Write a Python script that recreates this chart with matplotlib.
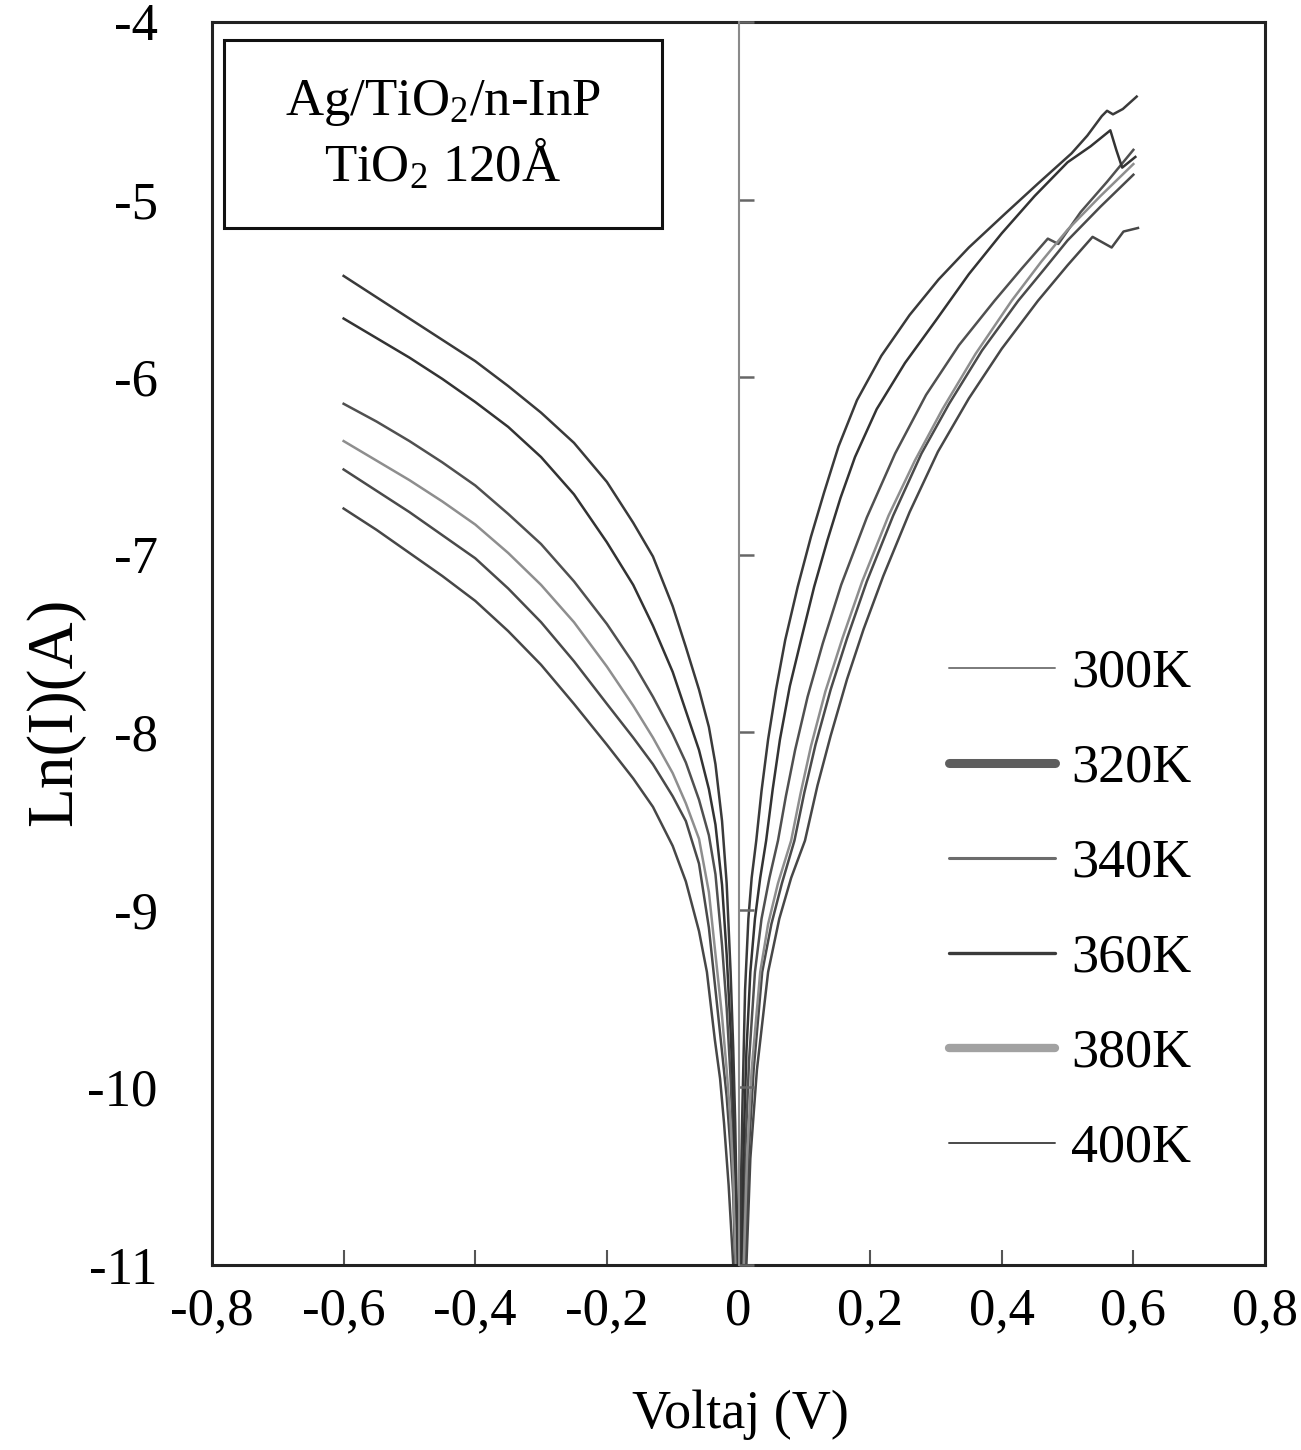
import matplotlib

matplotlib.use("Agg")
import matplotlib.pyplot as plt
from matplotlib.lines import Line2D
from matplotlib.patches import Rectangle

plt.rcParams.update(
    {
        "font.family": "Liberation Serif",
        "mathtext.fontset": "custom",
        "mathtext.rm": "Liberation Serif",
        "mathtext.it": "Liberation Serif:italic",
        "axes.unicode_minus": False,
    }
)

# temperatures (legend order) and how each one is drawn
temps = ["300K", "320K", "340K", "360K", "380K", "400K"]
plot_colors = ["#474747", "#4a4a4a", "#505050", "#333333", "#8e8e8e", "#3a3a3a"]
legend_colors = ["#7a7a7a", "#5e5e5e", "#6c6c6c", "#3a3a3a", "#a2a2a2", "#4a4a4a"]
legend_widths = [1.4, 6.5, 2.2, 2.4, 6.0, 1.4]

# reverse bias branch
v_rev_400 = [-0.60, -0.55, -0.50, -0.45, -0.40, -0.35, -0.30, -0.25, -0.20, -0.16, -0.13, -0.10,
             -0.08, -0.06, -0.045, -0.035, -0.025, -0.018, -0.012, -0.008, -0.005, -0.003, -0.001]
ln_rev_400 = [-5.43, -5.55, -5.67, -5.79, -5.91, -6.05, -6.20, -6.37, -6.59, -6.82, -7.01, -7.29,
              -7.52, -7.76, -7.97, -8.18, -8.50, -8.85, -9.35, -9.78, -10.2, -10.6, -11.0]
v_rev_360 = [-0.60, -0.55, -0.50, -0.45, -0.40, -0.35, -0.30, -0.25, -0.20, -0.16, -0.13, -0.10,
             -0.08, -0.06, -0.045, -0.035, -0.025, -0.018, -0.012, -0.008, -0.005, -0.002]
ln_rev_360 = [-5.67, -5.78, -5.89, -6.01, -6.14, -6.28, -6.45, -6.66, -6.93, -7.17, -7.40, -7.66,
              -7.88, -8.10, -8.32, -8.52, -8.86, -9.25, -9.68, -10.05, -10.45, -11.0]
v_rev_340 = [-0.60, -0.55, -0.50, -0.45, -0.40, -0.35, -0.30, -0.25, -0.20, -0.16, -0.13, -0.10,
             -0.08, -0.06, -0.045, -0.035, -0.025, -0.018, -0.012, -0.008, -0.005, -0.003]
ln_rev_340 = [-6.15, -6.25, -6.36, -6.48, -6.61, -6.77, -6.94, -7.15, -7.39, -7.61, -7.80, -8.01,
              -8.17, -8.38, -8.58, -8.80, -9.20, -9.55, -9.95, -10.3, -10.6, -11.0]
v_rev_380 = [-0.60, -0.55, -0.50, -0.45, -0.40, -0.35, -0.30, -0.25, -0.20, -0.16, -0.13, -0.10,
             -0.08, -0.06, -0.045, -0.035, -0.025, -0.018, -0.012, -0.008, -0.004]
ln_rev_380 = [-6.36, -6.47, -6.58, -6.70, -6.83, -6.99, -7.17, -7.38, -7.63, -7.85, -8.03, -8.23,
              -8.40, -8.60, -8.90, -9.25, -9.60, -9.90, -10.2, -10.5, -11.0]
v_rev_320 = [-0.60, -0.55, -0.50, -0.45, -0.40, -0.35, -0.30, -0.25, -0.20, -0.16, -0.13, -0.10,
             -0.08, -0.06, -0.045, -0.035, -0.025, -0.018, -0.012, -0.008, -0.005]
ln_rev_320 = [-6.52, -6.64, -6.76, -6.89, -7.02, -7.19, -7.38, -7.60, -7.84, -8.03, -8.18, -8.36,
              -8.50, -8.74, -9.10, -9.45, -9.80, -10.05, -10.35, -10.6, -11.0]
v_rev_300 = [-0.60, -0.55, -0.50, -0.45, -0.40, -0.35, -0.30, -0.25, -0.20, -0.16, -0.13, -0.10,
             -0.08, -0.06, -0.048, -0.036, -0.028, -0.022, -0.015, -0.008]
ln_rev_300 = [-6.74, -6.86, -6.99, -7.12, -7.26, -7.43, -7.62, -7.84, -8.07, -8.26, -8.42, -8.64,
              -8.84, -9.12, -9.35, -9.73, -9.95, -10.2, -10.55, -11.0]

# forward bias branch
v_fwd_400 = [0.002, 0.004, 0.006, 0.010, 0.015, 0.020, 0.027, 0.035, 0.045, 0.057, 0.071, 0.090,
             0.110, 0.130, 0.152, 0.180, 0.217, 0.260, 0.304, 0.350, 0.405, 0.455, 0.506, 0.530,
             0.552, 0.560, 0.569, 0.584, 0.605]
ln_fwd_400 = [-11.0, -10.5, -10.1, -9.45, -9.05, -8.82, -8.61, -8.33, -8.04, -7.76, -7.48, -7.18,
              -6.90, -6.65, -6.39, -6.13, -5.88, -5.65, -5.45, -5.27, -5.08, -4.91, -4.74, -4.64,
              -4.53, -4.50, -4.52, -4.49, -4.42]
v_fwd_360 = [0.004, 0.008, 0.012, 0.018, 0.025, 0.033, 0.042, 0.052, 0.063, 0.078, 0.095, 0.115,
             0.135, 0.155, 0.177, 0.210, 0.253, 0.300, 0.350, 0.400, 0.450, 0.500, 0.535, 0.565,
             0.574, 0.583, 0.603]
ln_fwd_360 = [-11.0, -10.3, -9.8, -9.35, -9.05, -8.82, -8.61, -8.32, -8.04, -7.74, -7.48, -7.18,
              -6.92, -6.68, -6.45, -6.18, -5.92, -5.68, -5.42, -5.19, -4.98, -4.79, -4.70, -4.61,
              -4.72, -4.82, -4.76]
v_fwd_340 = [0.006, 0.010, 0.016, 0.025, 0.035, 0.047, 0.060, 0.072, 0.086, 0.105, 0.128, 0.156,
             0.195, 0.238, 0.285, 0.335, 0.389, 0.430, 0.470, 0.486, 0.520, 0.560, 0.600]
ln_fwd_340 = [-11.0, -10.4, -9.85, -9.35, -9.05, -8.82, -8.61, -8.36, -8.10, -7.80, -7.50, -7.17,
              -6.79, -6.43, -6.10, -5.82, -5.57, -5.39, -5.22, -5.25, -5.07, -4.90, -4.72]
v_fwd_380 = [0.008, 0.013, 0.020, 0.033, 0.045, 0.060, 0.080, 0.094, 0.110, 0.132, 0.158, 0.188,
             0.228, 0.268, 0.310, 0.360, 0.415, 0.460, 0.500, 0.550, 0.600]
ln_fwd_380 = [-11.0, -10.4, -9.9, -9.35, -9.08, -8.85, -8.61, -8.35, -8.08, -7.77, -7.47, -7.15,
              -6.78, -6.47, -6.18, -5.87, -5.57, -5.35, -5.17, -4.98, -4.80]
v_fwd_320 = [0.010, 0.015, 0.023, 0.036, 0.050, 0.066, 0.085, 0.100, 0.117, 0.140, 0.165, 0.195,
             0.235, 0.278, 0.320, 0.370, 0.425, 0.465, 0.500, 0.550, 0.600]
ln_fwd_320 = [-11.0, -10.4, -9.9, -9.35, -9.08, -8.85, -8.61, -8.34, -8.07, -7.76, -7.47, -7.15,
              -6.78, -6.43, -6.15, -5.85, -5.57, -5.39, -5.23, -5.04, -4.86]
v_fwd_300 = [0.012, 0.018, 0.028, 0.045, 0.062, 0.080, 0.101, 0.120, 0.140, 0.165, 0.190, 0.220,
             0.260, 0.303, 0.350, 0.400, 0.455, 0.500, 0.538, 0.567, 0.585, 0.607]
ln_fwd_300 = [-11.0, -10.4, -9.9, -9.35, -9.05, -8.82, -8.61, -8.30, -8.02, -7.70, -7.42, -7.12,
              -6.76, -6.42, -6.12, -5.84, -5.57, -5.37, -5.21, -5.27, -5.18, -5.16]

reverse = {
    "300K": (v_rev_300, ln_rev_300),
    "320K": (v_rev_320, ln_rev_320),
    "340K": (v_rev_340, ln_rev_340),
    "360K": (v_rev_360, ln_rev_360),
    "380K": (v_rev_380, ln_rev_380),
    "400K": (v_rev_400, ln_rev_400),
}
forward = {
    "300K": (v_fwd_300, ln_fwd_300),
    "320K": (v_fwd_320, ln_fwd_320),
    "340K": (v_fwd_340, ln_fwd_340),
    "360K": (v_fwd_360, ln_fwd_360),
    "380K": (v_fwd_380, ln_fwd_380),
    "400K": (v_fwd_400, ln_fwd_400),
}

x_ticks = [-0.8, -0.6, -0.4, -0.2, 0.0, 0.2, 0.4, 0.6, 0.8]
x_tick_labels = ["-0,8", "-0,6", "-0,4", "-0,2", "0", "0,2", "0,4", "0,6", "0,8"]
y_ticks = [-11, -10, -9, -8, -7, -6, -5, -4]

W, H = 1301, 1450
fig = plt.figure(figsize=(W / 100, H / 100), dpi=100)
ax = fig.add_axes([212 / W, 1 - 1265 / H, 1053 / W, 1243 / H])

for t, pc in zip(temps, plot_colors):
    v, ln = reverse[t]
    ax.plot(v, ln, color=pc, lw=1.8, solid_joinstyle="round")
    v, ln = forward[t]
    ax.plot(v, ln, color=pc, lw=1.8, solid_joinstyle="round")

ax.set_xlim(-0.8, 0.8)
ax.set_ylim(-11, -4)
ax.set_xticks(x_ticks)
ax.set_xticklabels(x_tick_labels)
ax.set_yticks(y_ticks)
ax.set_yticklabels([str(y) for y in y_ticks])
ax.tick_params(axis="x", direction="in", length=11, width=1.5, color="#555555", pad=16, labelsize=38)
ax.tick_params(axis="y", length=0, pad=39, labelsize=38)
for s in ax.spines.values():
    s.set_linewidth(2.2)
    s.set_color("#222222")

# inner y axis through V = 0
cx = fig.add_axes([738.5 / W, 1 - 1265 / H, 0.05, 1243 / H])
cx.set_ylim(-11, -4)
cx.patch.set_visible(False)
for name in ["top", "right", "bottom"]:
    cx.spines[name].set_visible(False)
cx.spines["left"].set_color("#8a8a8a")
cx.spines["left"].set_linewidth(1.5)
cx.set_xticks([])
cx.set_yticks(y_ticks)
cx.tick_params(axis="y", direction="in", length=11, width=1.8, color="#666666", labelleft=False)

# sample box
ax.add_patch(Rectangle((0.0114, 0.8343), 0.416, 0.1512, transform=ax.transAxes,
                       fill=False, lw=2.2, ec="#111111", zorder=5))
ax.text(0.219, 0.935, "Ag/TiO$_2$/n-InP", transform=ax.transAxes, ha="center", va="center", fontsize=38)
ax.text(0.219, 0.885, "TiO$_2$ 120Å", transform=ax.transAxes, ha="center", va="center", fontsize=38)

handles = [Line2D([], [], color=c, lw=w, solid_capstyle="round") for c, w in zip(legend_colors, legend_widths)]
ax.legend(handles, temps, loc="upper left", bbox_to_anchor=(0.70, 0.496), frameon=False,
          fontsize=39, handlelength=1.95, handletextpad=0.3, labelspacing=0.82,
          borderpad=0, borderaxespad=0)

fig.text(740 / W, 1 - 1415 / H, "Voltaj (V)", ha="center", va="center", fontsize=39)
fig.text(55 / W, 1 - 712 / H, "Ln(I)(A)", ha="center", va="center", rotation=90, fontsize=47)

fig.savefig("out.png", dpi=100)
